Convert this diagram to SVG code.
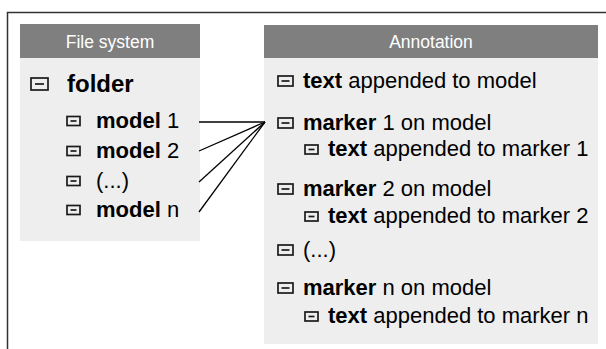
<svg xmlns="http://www.w3.org/2000/svg" xmlns:xlink="http://www.w3.org/1999/xlink" width="606" height="349" viewBox="0 0 606 349">
<style>
.hdr{fill:#7f7f7f}
.body{fill:#eeeeee}
.ht{font-family:"Liberation Sans",Arial,sans-serif;font-size:17.5px;fill:#ffffff;text-anchor:middle}
.t{font-family:"Liberation Sans",Arial,sans-serif;font-size:22px;fill:#000000}
.b{font-weight:bold}
.ic{fill:none;stroke:#1a1a1a;stroke-width:1.7}
.con{stroke:#000000;stroke-width:1.3;fill:none}
.frame{stroke:#333333;stroke-width:1.5;fill:none}
</style>
<defs>
<g id="icf"><rect class="ic" x="0" y="0" width="17" height="12"/><line class="ic" x1="4" y1="6" x2="13" y2="6"/></g>
<g id="icb"><rect class="ic" x="0" y="0" width="15" height="10"/><line class="ic" x1="3.5" y1="5" x2="11.5" y2="5"/></g>
<g id="ics"><rect class="ic" x="0" y="0" width="13" height="9"/><line class="ic" x1="3.5" y1="4.5" x2="9.5" y2="4.5"/></g>
</defs>
<g id="frame">
<path class="frame" d="M7.5,349 L7.5,12.5 L606,12.5"/>
</g>
<g id="filesystem">
<rect class="body" x="20" y="24" width="180" height="217"/>
<rect class="hdr" x="20" y="24" width="180" height="34"/>
<text class="ht" x="110" y="48">File system</text>
<use xlink:href="#icf" x="31" y="78"/>
<text class="t b" x="67" y="92" style="font-size:24px">folder</text>
<use xlink:href="#ics" x="67" y="116.5"/>
<text class="t" x="96" y="128"><tspan class="b">model</tspan> 1</text>
<use xlink:href="#ics" x="67" y="146.5"/>
<text class="t" x="96" y="158"><tspan class="b">model</tspan> 2</text>
<use xlink:href="#ics" x="67" y="176.5"/>
<text class="t" x="96" y="188">(...)</text>
<use xlink:href="#ics" x="67" y="205.5"/>
<text class="t" x="96" y="217"><tspan class="b">model</tspan> n</text>
</g>
<g id="annotation">
<rect class="body" x="264" y="25" width="334" height="319"/>
<rect class="hdr" x="264" y="25" width="334" height="33"/>
<text class="ht" x="431" y="48">Annotation</text>
<use xlink:href="#icb" x="278" y="76"/>
<text class="t" x="303" y="88"><tspan class="b">text</tspan> appended to model</text>
<use xlink:href="#icb" x="278" y="118"/>
<text class="t" x="303" y="130"><tspan class="b">marker</tspan> 1 on model</text>
<use xlink:href="#ics" x="305" y="145"/>
<text class="t" x="328" y="156"><tspan class="b">text</tspan> appended to marker 1</text>
<use xlink:href="#icb" x="278" y="184"/>
<text class="t" x="303" y="196"><tspan class="b">marker</tspan> 2 on model</text>
<use xlink:href="#ics" x="305" y="212"/>
<text class="t" x="328" y="223"><tspan class="b">text</tspan> appended to marker 2</text>
<use xlink:href="#icb" x="278" y="245"/>
<text class="t" x="303" y="257">(...)</text>
<use xlink:href="#icb" x="278" y="283"/>
<text class="t" x="303" y="295"><tspan class="b">marker</tspan> n on model</text>
<use xlink:href="#ics" x="305" y="312"/>
<text class="t" x="328" y="323"><tspan class="b">text</tspan> appended to marker n</text>
</g>
<g id="connectors">
<line class="con" x1="199" y1="122" x2="265" y2="122"/>
<line class="con" x1="199" y1="151" x2="265" y2="122"/>
<line class="con" x1="199" y1="182" x2="265" y2="122"/>
<line class="con" x1="199" y1="212" x2="265" y2="122"/>
</g>
</svg>
